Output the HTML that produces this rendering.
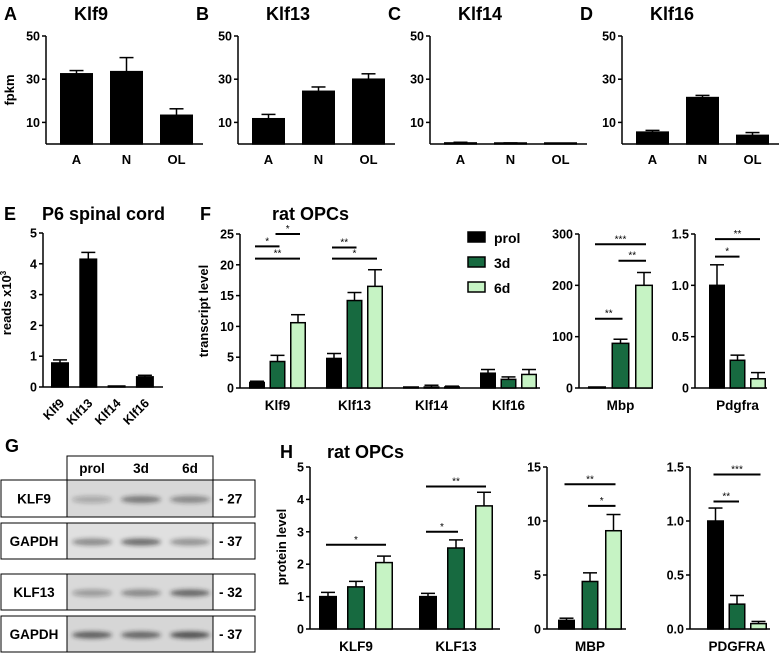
<!DOCTYPE html>
<html><head><meta charset="utf-8"><style>
body{margin:0;background:#fff}
svg{display:block;font-family:"Liberation Sans",Arial,sans-serif;font-weight:bold}
</style></head><body>
<svg id="fig" width="780" height="655" viewBox="0 0 780 655">
<defs>
<filter id="blur" x="-20%" y="-100%" width="140%" height="300%"><feGaussianBlur stdDeviation="2.2"/></filter>
</defs>
</svg>
<script>
// ---- data ----
const abcdCats = ['A','N','OL'];
const klf9Fpkm = [32.5, 33.5, 13.3];
const klf9Err = [1.5, 6.5, 3];
const klf13Fpkm = [11.7, 24.4, 30];
const klf13Err = [2, 2, 2.5];
const klf14Fpkm = [0.5, 0.3, 0.1];
const klf14Err = [0.3, 0.2, 0];
const klf16Fpkm = [5.5, 21.5, 4];
const klf16Err = [0.8, 1, 1.3];
const fpkmTicks = [10, 30, 50];

const eCats = ['Klf9','Klf13','Klf14','Klf16'];
const eReads = [0.78, 4.15, 0, 0.33];
const eErr = [0.1, 0.22, 0, 0.05];
const eTicks = [0,1,2,3,4,5];

const fCats = ['Klf9','Klf13','Klf14','Klf16'];
const fProl = [0.9, 4.8, 0.1, 2.4];
const f3d = [4.3, 14.2, 0.15, 1.4];
const f6d = [10.6, 16.5, 0.1, 2.2];
const fProlErr = [0.2, 0.8, 0, 0.6];
const f3dErr = [1, 1.3, 0.3, 0.4];
const f6dErr = [1.3, 2.7, 0.2, 0.8];
const fTicks = [0,5,10,15,20,25];
const fSig = [[0,1,2,25,'*'],[0,0,1,23,'*'],[0,0,2,21,'**'],[1,0,1,22.8,'**'],[1,0,2,21,'*']];

const mbpCats = ['Mbp'];
const mbpProl = [1]; const mbp3d = [87]; const mbp6d = [200];
const mbpProlErr = [0]; const mbp3dErr = [8]; const mbp6dErr = [25];
const mbpTicks = [0,100,200,300];
const mbpSig = [[0,0,2,280,'***'],[0,1,2,248,'**'],[0,0,1,135,'**']];

const pdgCats = ['Pdgfra'];
const pdgProl = [1.0]; const pdg3d = [0.27]; const pdg6d = [0.09];
const pdgProlErr = [0.2]; const pdg3dErr = [0.05]; const pdg6dErr = [0.06];
const pdgTicks = [0,0.5,1.0,1.5];
const pdgTickLabels = ['0','0.5','1.0','1.5'];
const pdgSig = [[0,0,2,1.45,'**'],[0,0,1,1.28,'*']];

const hCats = ['KLF9','KLF13'];
const hProl = [1.0, 1.0]; const h3d = [1.3, 2.5]; const h6d = [2.05, 3.8];
const hProlErr = [0.13, 0.1]; const h3dErr = [0.17, 0.25]; const h6dErr = [0.2, 0.42];
const hTicks = [0,1,2,3,4,5];
const hSig = [[0,0,2,2.6,'*'],[1,0,2,4.4,'**'],[1,0,1,3.0,'*']];

const hMbpCats = ['MBP'];
const hMbpProl = [0.8]; const hMbp3d = [4.4]; const hMbp6d = [9.1];
const hMbpProlErr = [0.2]; const hMbp3dErr = [0.8]; const hMbp6dErr = [1.5];
const hMbpTicks = [0,5,10,15];
const hMbpSig = [[0,0,2,13.4,'**'],[0,1,2,11.4,'*']];

const hPdgCats = ['PDGFRA'];
const hPdgProl = [1.0]; const hPdg3d = [0.23]; const hPdg6d = [0.05];
const hPdgProlErr = [0.12]; const hPdg3dErr = [0.08]; const hPdg6dErr = [0.02];
const hPdgTicks = [0,0.5,1.0,1.5];
const hPdgTickLabels = ['0.0','0.5','1.0','1.5'];
const hPdgSig = [[0,0,2,1.43,'***'],[0,0,1,1.18,'**']];

// ---- drawing ----
const svg = document.getElementById('fig');
const NS = 'http://www.w3.org/2000/svg';
const COLORS = ['#000000', '#176a40', '#c6f3c4'];
function el(tag, name, attrs, text){
  const e = document.createElementNS(NS, tag);
  
  
  for (const k in attrs) e.setAttribute(k, attrs[k]);
  if (text !== undefined) e.textContent = text;
  svg.appendChild(e);
  return e;
}
function txt(name, x, y, s, size, anchor, extra){
  const a = Object.assign({x:x, y:y, 'font-size':size, 'text-anchor':anchor||'middle', fill:'#000'}, extra||{});
  return el('text', name, a, s);
}
function axis(p){
  const sy = v => p.y0 - v / p.max * (p.y0 - p.yTop);
  el('line','y-axis',{x1:p.ax,y1:p.yTop,x2:p.ax,y2:p.y0,stroke:'#000','stroke-width':1.5});
  el('line','x-axis',{x1:p.ax,y1:p.y0,x2:p.axEnd,y2:p.y0,stroke:'#000','stroke-width':1.5});
  p.ticks.forEach((t,i)=>{
    el('line','y-tick',{x1:p.ax-4,y1:sy(t),x2:p.ax,y2:sy(t),stroke:'#000','stroke-width':1.5});
    txt('y-tick-label', p.ax-6, sy(t)+4.5, p.labels ? p.labels[i] : String(t), 12.5, 'end');
  });
  return sy;
}
function bar(name, x, w, v, err, sy, color){
  const top = sy(v), base = sy(0);
  if (err > 0){
    const et = sy(v+err);
    el('line', name+'-error', {x1:x+w/2,y1:et,x2:x+w/2,y2:top,stroke:'#000','stroke-width':1.5});
    el('line', name+'-error-cap', {x1:x+w/2-7,y1:et,x2:x+w/2+7,y2:et,stroke:'#000','stroke-width':1.5});
  }
  el('rect', name, {x:x+0.75,y:Math.min(top,base-1),width:w-1.5,height:Math.max(base-top,1),fill:color,stroke:'#000','stroke-width':1.5});
}
function simplePanel(p, cats, vals, errs){
  const sy = axis(p);
  cats.forEach((c,i)=>{
    const x = p.start + i*p.step;
    bar('bar-'+c.toLowerCase(), x, p.w, vals[i], errs[i], sy, '#000');
    if (p.rot){
      txt('x-label', x+p.w/2+5, p.y0+17, c, 12.5, 'end', {transform:`rotate(-45 ${x+p.w/2+5} ${p.y0+17})`});
    } else {
      txt('x-label', x+p.w/2, p.y0+20, c, 13);
    }
  });
}
function groupPanel(p, cats, series, errs, sig){
  const sy = axis(p);
  const cx = (g,b)=> p.start + g*p.gstep + b*p.step + p.w/2;
  cats.forEach((c,g)=>{
    series.forEach((s,b)=>{
      bar('bar-'+c.toLowerCase()+'-'+['prol','3d','6d'][b], p.start+g*p.gstep+b*p.step, p.w, s[g], errs[b][g], sy, COLORS[b]);
    });
    txt('x-label', cx(g,1), p.y0+22, c, 13.5);
  });
  (sig||[]).forEach(s=>{
    const y = sy(s[3]);
    el('line','significance-bar',{x1:cx(s[0],s[1])-2,y1:y,x2:cx(s[0],s[2])+2,y2:y,stroke:'#000','stroke-width':2});
    txt('significance-stars', (cx(s[0],s[1])+cx(s[0],s[2]))/2, y-2, s[4], 10, 'middle', {'font-weight':'normal'});
  });
}

// Panels A-D
const abcd = [['A','Klf9',klf9Fpkm,klf9Err,46],['B','Klf13',klf13Fpkm,klf13Err,238],['C','Klf14',klf14Fpkm,klf14Err,430],['D','Klf16',klf16Fpkm,klf16Err,622]];
abcd.forEach(d=>{
  const ax = d[4];
  txt('panel-letter-'+d[0].toLowerCase(), ax-42, 20, d[0], 18, 'start');
  txt('panel-title-'+d[1].toLowerCase(), ax+28, 20, d[1], 18, 'start');
  simplePanel({ax:ax,yTop:36,y0:144,max:50,axEnd:ax+157,ticks:fpkmTicks,start:ax+14,step:50,w:33}, abcdCats, d[2], d[3]);
});
txt('y-axis-title-fpkm', 0, 0, 'fpkm', 13, 'middle', {transform:'translate(14 90) rotate(-90)'});

// Panel E
txt('panel-letter-e', 4, 220, 'E', 18, 'start');
txt('panel-title-e', 42, 220, 'P6 spinal cord', 18, 'start');
simplePanel({ax:43,yTop:233,y0:387,max:5,axEnd:163,ticks:eTicks,start:51,step:28.3,w:18,rot:true}, eCats, eReads, eErr);
const eyt = txt('y-axis-title-reads', 0, 0, 'reads x10', 13, 'middle', {transform:'translate(11 303) rotate(-90)'});
const sup = document.createElementNS(NS,'tspan'); sup.setAttribute('dy','-5'); sup.setAttribute('font-size','8'); sup.textContent='3'; eyt.appendChild(sup);

// Panel F
txt('panel-letter-f', 200, 220, 'F', 18, 'start');
txt('panel-title-f', 272, 220, 'rat OPCs', 18, 'start');
groupPanel({ax:240,yTop:234,y0:388,max:25,axEnd:540,ticks:fTicks,start:249,gstep:77,step:20.5,w:16}, fCats, [fProl,f3d,f6d], [fProlErr,f3dErr,f6dErr], fSig);
txt('y-axis-title-transcript', 0, 0, 'transcript level', 13, 'middle', {transform:'translate(208 311) rotate(-90)'});
['prol','3d','6d'].forEach((s,i)=>{
  el('rect','legend-swatch-'+s,{x:468,y:232+i*25,width:17,height:10,fill:COLORS[i],stroke:'#000','stroke-width':1.5});
  txt('legend-label-'+s, 494, 243+i*25, s, 14, 'start');
});
groupPanel({ax:579,yTop:234,y0:388,max:300,axEnd:653,ticks:mbpTicks,start:588,gstep:0,step:23.5,w:18}, mbpCats, [mbpProl,mbp3d,mbp6d], [mbpProlErr,mbp3dErr,mbp6dErr], mbpSig);
groupPanel({ax:695,yTop:234,y0:388,max:1.5,axEnd:767,ticks:pdgTicks,labels:pdgTickLabels,start:709,gstep:0,step:20.5,w:16}, pdgCats, [pdgProl,pdg3d,pdg6d], [pdgProlErr,pdg3dErr,pdg6dErr], pdgSig);

// Panel H
txt('panel-letter-h', 280, 458, 'H', 18, 'start');
txt('panel-title-h', 327, 458, 'rat OPCs', 18, 'start');
groupPanel({ax:310,yTop:467,y0:629,max:5,axEnd:500,ticks:hTicks,start:319,gstep:100,step:28,w:18}, hCats, [hProl,h3d,h6d], [hProlErr,h3dErr,h6dErr], hSig);
txt('y-axis-title-protein', 0, 0, 'protein level', 13, 'middle', {transform:'translate(286 547) rotate(-90)'});
groupPanel({ax:547,yTop:467,y0:629,max:15,axEnd:626,ticks:hMbpTicks,start:558,gstep:0,step:23.5,w:17}, hMbpCats, [hMbpProl,hMbp3d,hMbp6d], [hMbpProlErr,hMbp3dErr,hMbp6dErr], hMbpSig);
groupPanel({ax:690,yTop:467,y0:629,max:1.5,axEnd:770,ticks:hPdgTicks,labels:hPdgTickLabels,start:707,gstep:0,step:21.5,w:17}, hPdgCats, [hPdgProl,hPdg3d,hPdg6d], [hPdgProlErr,hPdg3dErr,hPdg6dErr], hPdgSig);

// Panel G western blot
txt('panel-letter-g', 5, 452, 'G', 18, 'start');
el('rect','blot-lane-header',{x:67,y:456,width:146,height:24,fill:'#fff',stroke:'#000','stroke-width':1});
['prol','3d','6d'].forEach((s,i)=> txt('lane-label-'+s, 92+i*49, 473, s, 13.5));
const rows = [['KLF9','- 27',480,517,[0.35,0.7,0.6],'#d8d8d8'],['GAPDH','- 37',523,559,[0.6,0.8,0.55],'#e0e0e0'],['KLF13','- 32',574,610,[0.45,0.6,0.85],'#d9d9d9'],['GAPDH','- 37',616,652,[0.9,0.85,1],'#d6d6d6']];
rows.forEach(r=>{
  const y=r[2], h=r[3]-r[2];
  el('rect','blot-label-box',{x:1,y:y,width:66,height:h,fill:'#fff',stroke:'#000','stroke-width':1});
  txt('blot-label-'+r[0].toLowerCase(), 34, y+h/2+5, r[0], 13.5);
  el('rect','blot-image',{x:67,y:y,width:146,height:h,fill:r[5],stroke:'#000','stroke-width':1});
  r[4].forEach((a,i)=> el('ellipse','blot-band',{cx:92+i*49,cy:y+h/2+1,rx:20,ry:3.5,fill:'#222','fill-opacity':a*0.75,filter:'url(#blur)'}));
  el('rect','blot-mw-box',{x:213,y:y,width:42,height:h,fill:'#fff',stroke:'#000','stroke-width':1});
  txt('blot-mw-label', 219, y+h/2+5, r[1], 13.5, 'start');
});
</script>
</body></html>
